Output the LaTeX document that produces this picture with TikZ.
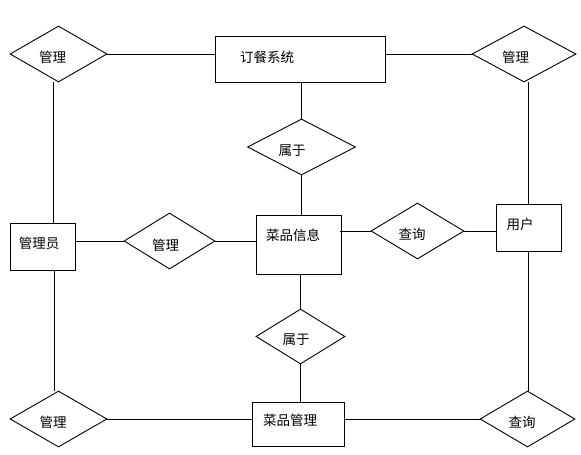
\documentclass[tikz,border=0pt]{standalone}
\usepackage{fontspec}
\newfontfamily\cjk{Noto Sans CJK SC}
\usetikzlibrary{shapes.geometric}
\newcommand\mytx[3]{\raisebox{\dimexpr#2-5.3pt\relax}[0pt][0pt]{\makebox[0pt]{\hspace*{#1}\hspace*{#1}#3}}}
\tikzset{
  base/.style={draw=black, line width=0.9pt, inner sep=0pt, font=\cjk\fontsize{13.5}{16}\selectfont},
  entity/.style={base, rectangle},
  rel/.style={base, diamond},
  link/.style={draw=black, line width=0.9pt}
}
\begin{document}
\begin{tikzpicture}[x=1pt, y=-1pt]
\useasboundingbox[fill=white] (0,0) rectangle (581,455);
% entities
\node[entity, minimum width=170pt, minimum height=46pt] (sys) at (300,59) {\mytx{-33pt}{2pt}{订餐系统}};
\node[entity, minimum width=65pt, minimum height=47pt] (admin) at (42.5,246.5) {\mytx{-3.5pt}{3.5pt}{管理员}};
\node[entity, minimum width=85pt, minimum height=59pt] (info) at (298.5,244.5) {\mytx{-5.5pt}{9.5pt}{菜品信息}};
\node[entity, minimum width=65pt, minimum height=47pt] (user) at (528.5,227.5) {\mytx{-8.5pt}{3.5pt}{用户}};
\node[entity, minimum width=92pt, minimum height=44pt] (mgmt) at (298,424) {\mytx{-8pt}{4pt}{菜品管理}};
% relationships
\node[rel, minimum width=97pt, minimum height=56pt] (dTL) at (58.5,54) {\mytx{-6pt}{-3pt}{管理}};
\node[rel, minimum width=104pt, minimum height=56pt] (dTR) at (524,54) {\mytx{-8.5pt}{-3pt}{管理}};
\node[rel, minimum width=108pt, minimum height=56pt] (dB1) at (301.5,147) {\mytx{-9.5pt}{-3pt}{属于}};
\node[rel, minimum width=91pt, minimum height=56pt] (dMid) at (169.5,241) {\mytx{-4pt}{-4pt}{管理}};
\node[rel, minimum width=93pt, minimum height=56pt] (dQ) at (417.5,231) {\mytx{-5.5pt}{-3pt}{查询}};
\node[rel, minimum width=89pt, minimum height=55pt] (dB2) at (300.5,336.5) {\mytx{-4.5pt}{-2.5pt}{属于}};
\node[rel, minimum width=97pt, minimum height=56pt] (dBL) at (58.5,419) {\mytx{-5.5pt}{-3pt}{管理}};
\node[rel, minimum width=95pt, minimum height=56pt] (dBR) at (527.5,419) {\mytx{-5.5pt}{-3pt}{查询}};
% connectors
\draw[link] (dTL.east) -- (dTL.east -| sys.west);
\draw[link] (dTR.west -| sys.east) -- (dTR.west);
\draw[link] ([xshift=11pt]admin.north) -- ([xshift=11pt]admin.north |- dTL.south);
\draw[link] ([xshift=11.5pt]admin.south) -- ([xshift=11.5pt]admin.south |- dBL.north);
\draw[link] (dBL.east) -- (dBL.east -| mgmt.west);
\draw[link] (dBR.west -| mgmt.east) -- (dBR.west);
\draw[link] (user.north) -- (user.north |- dTR.south);
\draw[link] (user.south) -- (user.south |- dBR.north);
\draw[link] (dB1.north |- sys.south) -- (dB1.north);
\draw[link] (dB1.south) -- (dB1.south |- info.north);
\draw[link] ([xshift=1.5pt]info.south) -- ([xshift=1.5pt]info.south |- dB2.north);
\draw[link] (dB2.south) -- (dB2.south |- mgmt.north);
\draw[link] (dMid.west -| admin.east) -- (dMid.west);
\draw[link] (dMid.east) -- (dMid.east -| info.west);
\draw[link] ([xshift=-1pt]dQ.west -| info.east) -- (dQ.west);
\draw[link] (dQ.east) -- (dQ.east -| user.west);
\end{tikzpicture}
\end{document}
